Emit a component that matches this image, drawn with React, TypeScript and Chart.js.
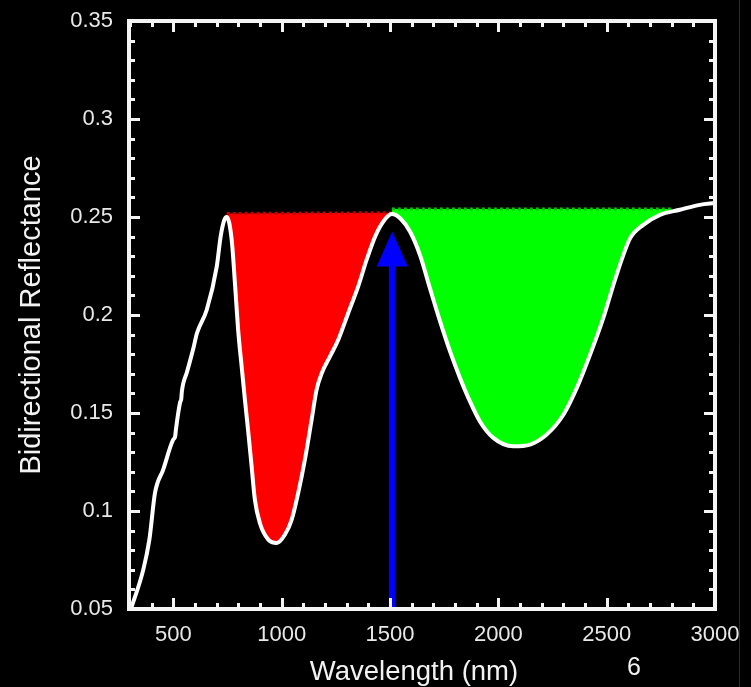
import React, { useEffect, useRef } from 'react';
import { Chart, registerables } from 'chart.js';

Chart.register(...registerables);

// Spectrum (wavelength nm, bidirectional reflectance)
const wavelengths = [
  304, 361, 389, 415, 453, 499, 508, 511, 531, 536, 539, 563, 591, 609, 654, 700, 718, 735, 746, 769,
  784, 800, 815, 830, 846, 861, 876, 899, 938, 977, 1015, 1046, 1076, 1107, 1138, 1161, 1185, 1223,
  1261, 1307, 1353, 1392, 1431, 1469, 1508, 1550, 1592, 1638, 1684, 1731, 1777, 1823, 1869, 1915,
  1977, 2069, 2146, 2223, 2300, 2362, 2423, 2484, 2531, 2577, 2608, 2669, 2746, 2838, 2930, 3000,
];
const reflectance = [
  0.05, 0.0701, 0.0854, 0.1092, 0.1211, 0.1364, 0.138, 0.141, 0.1555, 0.157, 0.161, 0.171, 0.1825,
  0.1908, 0.2027, 0.2247, 0.24, 0.2485, 0.25, 0.2384, 0.2163, 0.1908, 0.1738, 0.1568, 0.1398, 0.1228,
  0.1058, 0.0939, 0.0854, 0.0837, 0.088, 0.0956, 0.1092, 0.1262, 0.1466, 0.1619, 0.1704, 0.1789,
  0.1874, 0.201, 0.2146, 0.2282, 0.24, 0.2477, 0.2515, 0.249, 0.2426, 0.2307, 0.2137, 0.1967, 0.1814,
  0.1679, 0.1559, 0.1457, 0.1373, 0.133, 0.1339, 0.139, 0.1491, 0.1628, 0.1797, 0.1984, 0.2154,
  0.2307, 0.2392, 0.246, 0.2511, 0.2537, 0.2562, 0.2571,
];

// Continuum lines (band depth areas)
const redContinuumX = [746, 1508];
const redContinuumY = [0.2518, 0.2522];
const greenContinuumX = [1508, 2800];
const greenContinuumY = [0.2541, 0.2541];

// Axes
const xMin = 295;
const xMax = 3000;
const yMin = 0.05;
const yMax = 0.35;
const xTickValues = [500, 1000, 1500, 2000, 2500, 3000];
const xTickLabels = ['500', '1000', '1500', '2000', '2500', '3000'];
const yTickValues = [0.05, 0.1, 0.15, 0.2, 0.25, 0.3, 0.35];
const yTickLabels = ['0.05', '0.1', '0.15', '0.2', '0.25', '0.3', '0.35'];
const xMinorStep = 100;
const yMinorStep = 0.01;

// Arrow marking the 1500 nm peak
const arrowX = 1510;
const arrowBase = 0.05;
const arrowHeadBase = 0.2247;
const arrowTip = 0.2426;

const xTitle = 'Wavelength (nm)';
const yTitle = 'Bidirectional Reflectance';
const pageNumber = '6';

const FONT = '"Liberation Sans", Arial, Helvetica, sans-serif';

const toPoints = (xs: number[], ys: number[]) => xs.map((x, i) => ({ x, y: ys[i] }));

const decorPlugin = {
  id: 'decor',
  beforeDraw(chart: any) {
    const { ctx } = chart;
    ctx.save();
    ctx.fillStyle = '#000';
    ctx.fillRect(0, 0, chart.width, chart.height);
    ctx.restore();
  },
  afterDatasetsDraw(chart: any) {
    const { ctx, scales } = chart;
    const xs = scales.x;
    const ys = scales.y;
    const px = xs.getPixelForValue(arrowX);
    const yb = ys.getPixelForValue(arrowBase);
    const yh = ys.getPixelForValue(arrowHeadBase);
    const yt = ys.getPixelForValue(arrowTip);
    ctx.save();
    ctx.fillStyle = '#0000ff';
    ctx.fillRect(px - 3.3, yh - 1, 6.6, yb - yh + 1);
    ctx.beginPath();
    ctx.moveTo(px - 15.5, yh);
    ctx.lineTo(px, yt);
    ctx.lineTo(px + 15.5, yh);
    ctx.closePath();
    ctx.fill();
    ctx.restore();
  },
  afterDraw(chart: any) {
    const { ctx, chartArea, scales } = chart;
    const { left, right, top, bottom } = chartArea;
    const xs = scales.x;
    const ys = scales.y;
    ctx.save();
    ctx.strokeStyle = '#f4f4f4';
    ctx.lineWidth = 3;
    ctx.lineCap = 'butt';
    // x ticks (bottom and top, pointing inward)
    for (let i = Math.ceil(xMin / xMinorStep); i * xMinorStep < xMax; i++) {
      const v = i * xMinorStep;
      if (v <= xMin) continue;
      const major = xTickValues.includes(v);
      const len = major ? 11 : 6;
      const p = Math.round(xs.getPixelForValue(v)) + 0.5;
      ctx.beginPath();
      ctx.moveTo(p, bottom);
      ctx.lineTo(p, bottom - len);
      ctx.moveTo(p, top);
      ctx.lineTo(p, top + len);
      ctx.stroke();
    }
    // y ticks (left and right, pointing inward)
    const nY = Math.round((yMax - yMin) / yMinorStep);
    for (let i = 1; i < nY; i++) {
      const v = yMin + i * yMinorStep;
      const major = i % 5 === 0;
      const len = major ? 11 : 6;
      const p = Math.round(ys.getPixelForValue(v)) + 0.5;
      ctx.beginPath();
      ctx.moveTo(left, p);
      ctx.lineTo(left + len, p);
      ctx.moveTo(right, p);
      ctx.lineTo(right - len, p);
      ctx.stroke();
    }
    // frame
    ctx.lineWidth = 4;
    ctx.strokeRect(left, top, right - left, bottom - top);

    // x axis title and page number
    ctx.fillStyle = '#f2f2f2';
    ctx.textAlign = 'center';
    ctx.textBaseline = 'alphabetic';
    ctx.font = `27.5px ${FONT}`;
    ctx.fillText(xTitle, 414, 680);
    ctx.font = `25px ${FONT}`;
    ctx.fillText(pageNumber, 634, 675);

    // faint slide edge line
    ctx.strokeStyle = '#2a2a2a';
    ctx.lineWidth = 1;
    ctx.beginPath();
    ctx.moveTo(739.5, 0);
    ctx.lineTo(739.5, chart.height);
    ctx.stroke();
    ctx.restore();
  },
};

export default function App() {
  const canvasRef = useRef<HTMLCanvasElement | null>(null);

  useEffect(() => {
    document.body.style.margin = '0';
    document.body.style.background = '#000';
    const canvas = canvasRef.current;
    if (!canvas) return;
    const chart = new Chart(canvas, {
      type: 'line',
      data: {
        datasets: [
          {
            label: 'Spectrum',
            data: toPoints(wavelengths, reflectance),
            borderColor: '#ffffff',
            borderWidth: 4,
            pointRadius: 0,
            cubicInterpolationMode: 'monotone',
            fill: false,
          },
          {
            label: 'Band 1',
            data: toPoints(redContinuumX, redContinuumY),
            borderColor: '#c80000',
            borderWidth: 3,
            borderDash: [3, 3],
            pointRadius: 0,
            fill: { target: 0, above: '#ff0000', below: '#ff0000' },
          },
          {
            label: 'Band 2',
            data: toPoints(greenContinuumX, greenContinuumY),
            borderColor: '#00c800',
            borderWidth: 3,
            borderDash: [3, 3],
            pointRadius: 0,
            fill: { target: 0, above: '#00ff00', below: '#00ff00' },
          },
        ],
      },
      options: {
        animation: false,
        responsive: false,
        maintainAspectRatio: false,
        devicePixelRatio: 1,
        layout: { padding: { top: 21, right: 36, left: 0, bottom: 0 } },
        plugins: {
          legend: { display: false },
          tooltip: { enabled: false },
        },
        scales: {
          x: {
            type: 'linear',
            min: xMin,
            max: xMax,
            afterFit: (s: any) => {
              s.height = 78;
              s.paddingLeft = 0;
              s.paddingRight = 0;
            },
            afterBuildTicks: (s: any) => {
              s.ticks = xTickValues.map((v) => ({ value: v }));
            },
            ticks: {
              color: '#e8e8e8',
              font: { family: FONT, size: 22 },
              padding: 13,
              maxRotation: 0,
              autoSkip: false,
              callback: (v: any) => {
                const i = xTickValues.indexOf(Number(v));
                return i >= 0 ? xTickLabels[i] : '';
              },
            },
            grid: { display: false, drawTicks: false },
            border: { display: false },
          },
          y: {
            type: 'linear',
            min: yMin,
            max: yMax,
            afterFit: (s: any) => {
              s.width = 129;
              s.paddingTop = 0;
              s.paddingBottom = 0;
            },
            afterBuildTicks: (s: any) => {
              s.ticks = yTickValues.map((v) => ({ value: v }));
            },
            ticks: {
              color: '#e8e8e8',
              font: { family: FONT, size: 22 },
              padding: 16,
              autoSkip: false,
              callback: (v: any) => {
                const i = yTickValues.findIndex((t) => Math.abs(t - Number(v)) < 1e-9);
                return i >= 0 ? yTickLabels[i] : '';
              },
            },
            title: {
              display: true,
              text: yTitle,
              color: '#f2f2f2',
              font: { family: FONT, size: 29 },
              padding: { top: 15, bottom: 0 },
            },
            grid: { display: false, drawTicks: false },
            border: { display: false },
          },
        },
      },
      plugins: [decorPlugin],
    } as any);
    return () => chart.destroy();
  }, []);

  return (
    <div style={{ width: 751, height: 687, background: '#000' }}>
      <canvas ref={canvasRef} width={751} height={687} style={{ display: 'block' }} />
    </div>
  );
}
